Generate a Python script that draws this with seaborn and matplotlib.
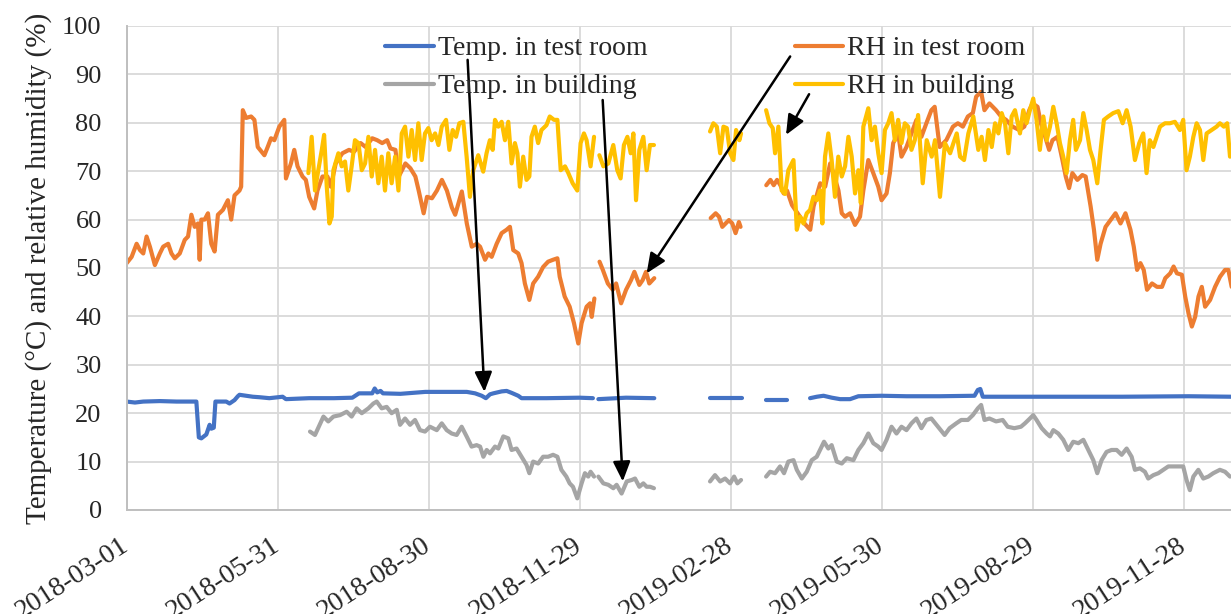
import numpy as np
import pandas as pd
import seaborn as sns
import matplotlib.pyplot as plt

start_date = "2018-03-01"
tick_labels = ["2018-03-01", "2018-05-31", "2018-08-30", "2018-11-29",
               "2019-02-28", "2019-05-30", "2019-08-29", "2019-11-28"]
last_day = 665.6

series_names = ["Temp. in test room", "Temp. in building", "RH in test room", "RH in building"]
series_colors = ["#4472C4", "#A5A5A5", "#ED7D31", "#FFC000"]

gap = np.nan

# (day after 2018-03-01, value); gap rows split the line where logging stopped
temp_room = [
    (0, 22.4), (5, 22.2), (10, 22.4), (20, 22.5), (30, 22.4), (42, 22.4), (43.5, 15), (45, 14.8),
    (48, 15.6), (50, 17.6), (51, 16.8), (52.5, 17), (53.5, 22.4), (60, 22.4), (62, 22.0), (65, 22.7),
    (67, 23.5), (68, 23.8), (72, 23.6), (76, 23.4), (80, 23.3), (86, 23.1), (94, 23.4), (96, 22.9),
    (110, 23.1), (125, 23.1), (136, 23.2), (140, 24.1), (148, 24.1), (149.5, 25.1), (151, 24.3),
    (153, 24.6), (154.5, 24.1), (165, 24.0), (180, 24.4), (195, 24.4), (205, 24.4), (210, 24.1),
    (214, 23.6), (216.5, 23.1), (219, 23.9), (221, 24.1), (226, 24.5), (229, 24.6), (232, 24.2),
    (236, 23.6), (238, 23.1), (253, 23.1), (273, 23.2), (281, 23.1), (283, gap),
    (284.3, 22.9), (301, 23.2), (318, 23.1), (330, gap),
    (351.6, 23.1), (370.7, 23.1), (378, gap),
    (385.4, 22.7), (397.8, 22.7), (405, gap),
    (411.9, 23.1), (416, 23.4), (420, 23.6), (425, 23.2), (430, 22.9), (436, 22.9), (441, 23.5),
    (455, 23.6), (470, 23.5), (490, 23.5), (511, 23.6), (513, 24.8), (514.5, 25.0), (516, 23.4),
    (540, 23.4), (600, 23.4), (640, 23.5), (666, 23.4),
]

temp_building = [
    (110.5, 16.2), (113.5, 15.5), (118.6, 19.3), (121.5, 18.3), (124.6, 19.3), (128.6, 19.6),
    (132.6, 20.3), (135.6, 19.3), (138.6, 21), (141.7, 20), (145.7, 21), (148.7, 22), (150.7, 22.4),
    (153.7, 21), (156.7, 21.3), (159.7, 20), (162.8, 20.7), (164.8, 17.6), (167.8, 18.9),
    (170.8, 17.6), (173.8, 18.6), (176.8, 16.5), (179.8, 16.2), (182.8, 17.2), (186.9, 16.5),
    (189.9, 17.9), (192.9, 16.5), (195.9, 15.8), (198.9, 15.5), (201.9, 17.2), (204.9, 15.2),
    (207.9, 13.1), (210.9, 13.4), (213, 13.1), (215, 11), (217, 12.4), (219, 11.7), (222, 13.1),
    (224, 12.7), (227, 15.2), (230, 14.8), (232, 12.4), (235, 12.7), (238, 11), (241, 9.3),
    (242.7, 7.6), (245, 10), (248, 9.6), (251, 11), (254, 11), (257, 11.4), (259.6, 11), (262, 8.3),
    (265, 6.9), (267, 5.5), (269, 4.8), (271.6, 2.4), (274.2, 5.5), (276.2, 7.6), (278.2, 6.9),
    (279.6, 7.9), (281.7, 6.9), (283, gap),
    (284.3, 6.9), (287.3, 5.5), (290.3, 5.2), (293.3, 4.5), (295.3, 5.2), (298.3, 3.4), (301.4, 5.9),
    (304.4, 6.2), (306.4, 6.5), (309, 4.8), (311.4, 5.5), (313.4, 4.8), (315.4, 4.8), (317.8, 4.5),
    (330, gap),
    (351.6, 5.9), (354.6, 7.2), (357.7, 5.9), (360.7, 6.5), (363.7, 5.5), (366.1, 6.9), (368.1, 5.5),
    (370.3, 6.2), (378, gap),
    (385.4, 6.9), (387.8, 7.9), (390.8, 7.6), (393.8, 9), (396.2, 7.6), (398.8, 10), (401.9, 10.3),
    (403.9, 8.3), (406.9, 6.5), (409.9, 7.9), (412.9, 10.3), (415.9, 11), (417.9, 12.4), (420.3, 14.1),
    (422.9, 12.7), (424.9, 13.4), (428, 10), (431, 9.6), (434, 10.7), (438, 10.3), (441, 12.4),
    (444, 13.8), (447, 15.8), (450, 13.8), (453, 13.1), (455, 12.4), (458, 14.5), (461, 17.2),
    (464, 15.8), (467, 17.2), (470, 16.5), (473, 17.9), (476, 18.9), (479, 16.9), (482, 18.6),
    (485, 18.9), (489, 17.2), (493, 15.5), (496, 16.9), (500, 17.9), (503, 18.6), (507, 18.6),
    (510, 19.6), (513, 21), (515, 21.7), (517, 18.6), (520, 18.9), (524, 18.3), (528, 18.6),
    (531, 17.2), (535, 16.9), (539, 17.2), (541.4, 17.9), (544.4, 18.9), (546.4, 19.6), (548.4, 18.6),
    (551.5, 16.9), (554.5, 15.8), (556.5, 15.2), (558.5, 16.5), (561.5, 15.8), (564.5, 14.5),
    (567.5, 12.4), (570.5, 14.1), (573.6, 13.8), (576.6, 14.5), (579.6, 12.4), (582.6, 10.3),
    (585, 7.6), (587.6, 10.3), (590.6, 12), (593.6, 12.4), (596.7, 12.4), (599.7, 11.4), (602.7, 12.7),
    (605.7, 11), (607.7, 8.3), (610.7, 8.6), (613.7, 7.9), (615.7, 6.5), (618.8, 7.2), (621.8, 7.6),
    (624.8, 8.3), (627.8, 9), (630.8, 9), (633.8, 9), (636.8, 9), (638.8, 6.2), (640.8, 4.1),
    (642.9, 6.9), (645.9, 8.3), (648.9, 6.5), (651.9, 6.9), (654.9, 7.6), (658.9, 8.3), (662, 7.9),
    (665, 6.9),
]

rh_room = [
    (0, 51), (3, 52.3), (6, 55), (8, 53.7), (10, 53), (12, 56.5), (14, 54.4), (17, 50.6), (20, 53),
    (22, 54.4), (25, 55), (27, 53), (29, 52), (32, 53), (35, 55.8), (37, 56.5), (39, 61), (41, 58.5),
    (43, 59.2), (44, 51.7), (45, 60), (47, 60), (49, 61.3), (51, 55), (53, 53.4), (55, 61), (58, 62),
    (61, 64), (63, 60), (65, 65), (68, 66), (69, 66.8), (70, 82.6), (72, 81), (75, 81.3), (77, 80.6),
    (79, 75), (83, 73.3), (85, 75), (87, 76.8), (89, 76.4), (92, 79.2), (95, 80.6), (96, 68.5),
    (99, 71.6), (101, 74.4), (103, 71), (106, 68.9), (108, 68.2), (110, 64.7), (113, 62.3), (115, 66),
    (118, 68.9), (121, 68.9), (123, 66.8), (126, 71.6), (130, 73.7), (134, 74.4), (137, 74),
    (141, 75.8), (144, 75), (148, 76.8), (151, 76.4), (154, 75.8), (157, 76.4), (159, 74.7),
    (162, 74.4), (164, 68.9), (168, 71.6), (171, 70.6), (174, 68.9), (176, 66), (179, 61.3),
    (181, 64.7), (184, 64.4), (187, 66), (190, 68.2), (193, 66), (196, 62.5), (198, 61), (202, 65.8),
    (205, 59.2), (208, 54.4), (211, 55), (213, 54.4), (216, 51.7), (218, 53), (220, 52.3), (223, 55),
    (226, 57.2), (229, 57.9), (231, 58.5), (233, 53.7), (236, 53), (238, 51), (240, 46.8),
    (242.7, 43.4), (245, 46.8), (248, 48.2), (251, 50.2), (254, 51.3), (257, 51.7), (259.6, 52),
    (261, 48.2), (264, 44.1), (267, 42), (269.6, 38.6), (272.2, 34.4), (274.2, 38.6), (277.2, 42),
    (279.3, 42.7), (280.3, 39.9), (281.9, 43.7), (283, gap),
    (285, 51.3), (287, 49.6), (290, 46.8), (293, 45.5), (295, 46.8), (298, 42.7), (301, 45.5),
    (304, 47.5), (306, 49.2), (309, 46.5), (311, 47.5), (313, 49.2), (315, 46.8), (318, 47.9),
    (330, gap),
    (352, 60.3), (355, 61.3), (357, 60.6), (359, 58.5), (361, 59.2), (363, 59.9), (365, 59.2),
    (367, 57.2), (369, 59.5), (370, 58.5), (378, gap),
    (385.5, 67.1), (388, 68.2), (390, 67.1), (392, 68.2), (394, 67.1), (396, 65.4), (398, 66),
    (401, 63), (405, 61), (409, 59), (412, 57.9), (414, 62.7), (418, 67.5), (421, 66.8), (424, 71.6),
    (426, 69.6), (429, 66), (431, 61.3), (433, 60.6), (436, 61.3), (439, 58.9), (442, 60.6), (444, 66),
    (447, 72.3), (450, 69.6), (453, 66.8), (455, 64), (458, 65.4), (460, 69.6), (462, 75.8),
    (465, 77.8), (467, 73), (470, 75), (473, 77.8), (476, 80.6), (479, 77.1), (482, 79.9),
    (485, 82.6), (487, 83.3), (490, 75), (494, 76.4), (498, 79.2), (501, 79.9), (504, 79.2),
    (507, 81.3), (510, 82), (512, 85.4), (515, 86.4), (517, 82.6), (520, 84), (524, 82.6),
    (527, 81.3), (530, 80.6), (534, 79.2), (538, 78.5), (541, 79.2), (544, 82.6), (546, 84),
    (549, 83.3), (551, 79.9), (553, 77.8), (556, 74.4), (558, 76.4), (561, 77.1), (564, 72.3),
    (566, 68.9), (568, 66.5), (570, 69.6), (573, 68.2), (576, 69.2), (578, 68.9), (581, 62.7),
    (583, 57.9), (585, 51.7), (587, 55), (590, 58.5), (593, 59.9), (596, 61.3), (599, 59.2),
    (602, 61.3), (605, 57.9), (607, 54.4), (609, 49.6), (611, 51), (613, 49.6), (615, 45.5),
    (618, 46.8), (621, 46.1), (624, 46.1), (626, 47.9), (629, 48.9), (631, 50.3), (633, 48.9),
    (636, 48.6), (638, 44.1), (640, 40.6), (642, 37.9), (644, 39.9), (646, 44.1), (648, 46.1),
    (650, 42), (653, 43.4), (656, 46.1), (659, 48.2), (662, 49.6), (664, 49.6), (666, 46.1),
]

rh_building = [
    (109.5, 69.6), (111.5, 77.1), (113.5, 66), (115.5, 70.2), (117.6, 74.4), (119, 77.5),
    (120.6, 66.8), (122.2, 59.2), (123.6, 60.6), (124.6, 70.2), (127.6, 73.7), (129.6, 71),
    (131.6, 72), (133.6, 66), (135.6, 71), (137.6, 76.4), (139.7, 75.8), (141.7, 70.2), (143.7, 71.6),
    (145.7, 77.1), (147.7, 68.9), (149.7, 74.4), (151.7, 67.5), (153.7, 73), (155.7, 66),
    (157.7, 73.7), (159.7, 67.5), (161.8, 73), (163.8, 66), (165.8, 77.8), (167.8, 79.2),
    (169.8, 73), (171.8, 78.5), (173.8, 72.3), (175.8, 79.9), (177.8, 72.3), (179.8, 77.8),
    (181.8, 78.9), (183.8, 76.4), (185.9, 77.8), (187.9, 75.4), (189.9, 79.2), (192.5, 80.6),
    (194.5, 74.4), (196.5, 78.5), (198.5, 77.1), (200.5, 79.9), (202.9, 80.2), (204.9, 73),
    (206.9, 64.7), (208.9, 70.2), (211.9, 73.3), (214.9, 69.9), (216.9, 73.7), (218.9, 76.4),
    (220.6, 74.4), (222, 80.6), (224, 79.2), (226, 80.2), (228, 76.4), (230, 80.2), (232, 71.6),
    (234, 75.8), (235.5, 73.7), (237, 66.8), (239, 73), (241, 68.2), (242.7, 68.9), (244, 77.1),
    (246, 79.2), (248, 75.8), (250, 78.5), (253, 79.5), (255, 81.3), (257.6, 80.6), (259.6, 80.6),
    (261.6, 70.2), (264.2, 71), (266.2, 69.6), (268.8, 67.5), (271.6, 66), (273.6, 75.8),
    (275.6, 77.8), (277.2, 76.4), (279.6, 71), (281.7, 77.1), (283, gap),
    (284.9, 73.3), (287.3, 71), (290.3, 71.6), (293.3, 75.4), (295.7, 70.2), (297.7, 68.5),
    (299.7, 75.4), (301.8, 77.1), (303.8, 73.7), (305.4, 77.8), (307, 64), (309, 74.4), (311.4, 77.1),
    (313.4, 70.2), (315.4, 75.4), (317.8, 75.4), (330, gap),
    (351.6, 78.2), (353.6, 79.9), (355.7, 79.2), (357.7, 73.7), (359.7, 79.2), (361.7, 78.9),
    (363.7, 73.7), (365.7, 72.3), (367.3, 78.5), (369.3, 76.4), (370.3, 77.8), (378, gap),
    (385.4, 82.6), (387.4, 79.9), (389.4, 78.9), (390.8, 73.7), (392.8, 79.2), (394.8, 66),
    (396.8, 65.3), (398.8, 70.2), (401.9, 72.3), (403.9, 57.9), (405.9, 60.6), (407.9, 59.2),
    (409.9, 61.3), (411.9, 62), (413.9, 64.7), (415.9, 64), (417.9, 66), (419.3, 59.2), (420.9, 73),
    (422.9, 77.8), (424.9, 72.3), (426.9, 64.7), (428.9, 73), (431, 68.9), (433, 71), (435, 77.1),
    (437, 73), (439, 65.4), (441, 70.2), (442.5, 63.4), (444, 79.2), (447, 83), (449, 76.4),
    (451, 79.2), (453, 73.7), (455, 69.6), (457, 78.5), (459, 79.9), (461, 82), (463, 76.4),
    (465, 80.6), (467, 75.8), (469, 79.9), (471, 79.2), (473, 74.4), (475, 76.4), (477, 81.6),
    (479.8, 67.5), (482.2, 76.4), (485.2, 73), (487.2, 76.4), (490.2, 64.7), (493.2, 75.8),
    (496.3, 73.7), (498.3, 75.8), (500.3, 77.8), (502.3, 73), (504.7, 72.3), (507.3, 77.8),
    (510.3, 81.3), (513.3, 74.4), (515.3, 77.1), (517.3, 72.3), (519.4, 78.5), (521.4, 75),
    (523.4, 79.9), (525.4, 77.8), (527.4, 82), (529.4, 79.9), (531.4, 73.7), (533.4, 81.3),
    (535.4, 82.6), (538.4, 77.8), (540.4, 82.6), (542.4, 79.9), (544.4, 82.6), (546.4, 85),
    (548.4, 80.6), (550.4, 74.4), (552.5, 81.3), (554.5, 76.4), (556.5, 79.2), (558.5, 83.3),
    (560.5, 79.9), (562.5, 75.8), (564.5, 73), (566.5, 69.6), (568.5, 76.4), (570.5, 80.6),
    (572.1, 74.4), (574.6, 76.4), (576.6, 82), (578.6, 78.5), (580.6, 74.4), (582.6, 72.3),
    (585, 67.5), (587, 74.4), (589, 80.6), (591.6, 81.3), (594.6, 82), (597.7, 82.4), (600.3, 79.9),
    (602.7, 82.6), (605.1, 79.2), (607.7, 72.3), (610.3, 75.8), (612.7, 77.8), (614.7, 69.6),
    (616.7, 76.4), (618.8, 75), (620.8, 77.1), (622.8, 79.2), (625.8, 79.9), (628.8, 79.9),
    (631.8, 80.2), (634.8, 78.5), (636.8, 80.6), (638.8, 70.2), (640.8, 73), (642.9, 77.1),
    (644.9, 79.9), (646.9, 78.5), (648.9, 72.3), (650.9, 77.8), (653.9, 78.5), (656.9, 79.2),
    (658.9, 79.9), (661.3, 79.2), (663.3, 79.9), (665, 73),
]

# arrows: (from day, from value, to day, to value)
arrows = [
    (205.5, 93.0, 215.6, 24.4),
    (286.9, 84.7, 299.0, 5.9),
    (399.9, 93.7, 313.4, 48.9),
    (411.3, 85.9, 397.4, 77.5),
]


def to_frame(name, pairs):
    df = pd.DataFrame(pairs, columns=["day", "value"])
    df["segment"] = df["value"].isna().cumsum()
    df = df.dropna().copy()
    df["date"] = pd.Timestamp(start_date) + pd.to_timedelta(df["day"], unit="D")
    df["series"] = name
    return df


data = pd.concat([
    to_frame(series_names[0], temp_room),
    to_frame(series_names[1], temp_building),
    to_frame(series_names[2], rh_room),
    to_frame(series_names[3], rh_building),
], ignore_index=True)

sns.set_style("white")
plt.rcParams["font.family"] = ["Liberation Serif", "DejaVu Serif"]

fig = plt.figure(figsize=(12.31, 6.14), dpi=100)
ax = fig.add_axes([0.1029, 0.1694, 0.8971, 0.7883])

sns.lineplot(
    data=data, x="date", y="value", hue="series", units="segment",
    estimator=None, sort=False, hue_order=series_names,
    palette=series_colors, linewidth=3.0, ax=ax,
)

d0 = pd.Timestamp(start_date)
for x0, y0, x1, y1 in arrows:
    ax.annotate(
        "", xy=(d0 + pd.Timedelta(days=x1), y1), xytext=(d0 + pd.Timedelta(days=x0), y0),
        arrowprops=dict(arrowstyle="-|>,head_length=0.8,head_width=0.35", color="black",
                        lw=1.8, shrinkA=0, shrinkB=0, mutation_scale=15),
    )

ax.set_xlim(d0, d0 + pd.Timedelta(days=last_day))
ax.set_ylim(0, 100)
ax.set_yticks(range(0, 101, 10))
ax.set_xticks(pd.to_datetime(tick_labels))
ax.set_xticklabels(tick_labels, rotation=33, ha="right", va="center", rotation_mode="anchor")

ax.grid(True, color="#d9d9d9", linewidth=1.3)
ax.set_axisbelow(True)
for side in ["top", "right"]:
    ax.spines[side].set_visible(False)
for side in ["left", "bottom"]:
    ax.spines[side].set_color("#bfbfbf")
    ax.spines[side].set_linewidth(1.4)

ax.tick_params(axis="y", length=0, pad=18, labelsize=19)
ax.tick_params(axis="x", length=0, pad=24, labelsize=20)

ax.set_xlabel("")
ax.set_ylabel("Temperature (°C) and relative humidity (%)", fontsize=21)
ax.yaxis.set_label_coords(-0.068, 0.5)

handles, labels = ax.get_legend_handles_labels()
ax.legend(
    handles, labels, ncol=2, frameon=False, loc="upper left",
    bbox_to_anchor=(385 / 1231, 1 - 36 / 614), bbox_transform=fig.transFigure,
    borderpad=0, borderaxespad=0, handlelength=1.75, handletextpad=0.15,
    columnspacing=5.3, labelspacing=0.45, fontsize=20,
)

fig.savefig("out.png", dpi=100)
